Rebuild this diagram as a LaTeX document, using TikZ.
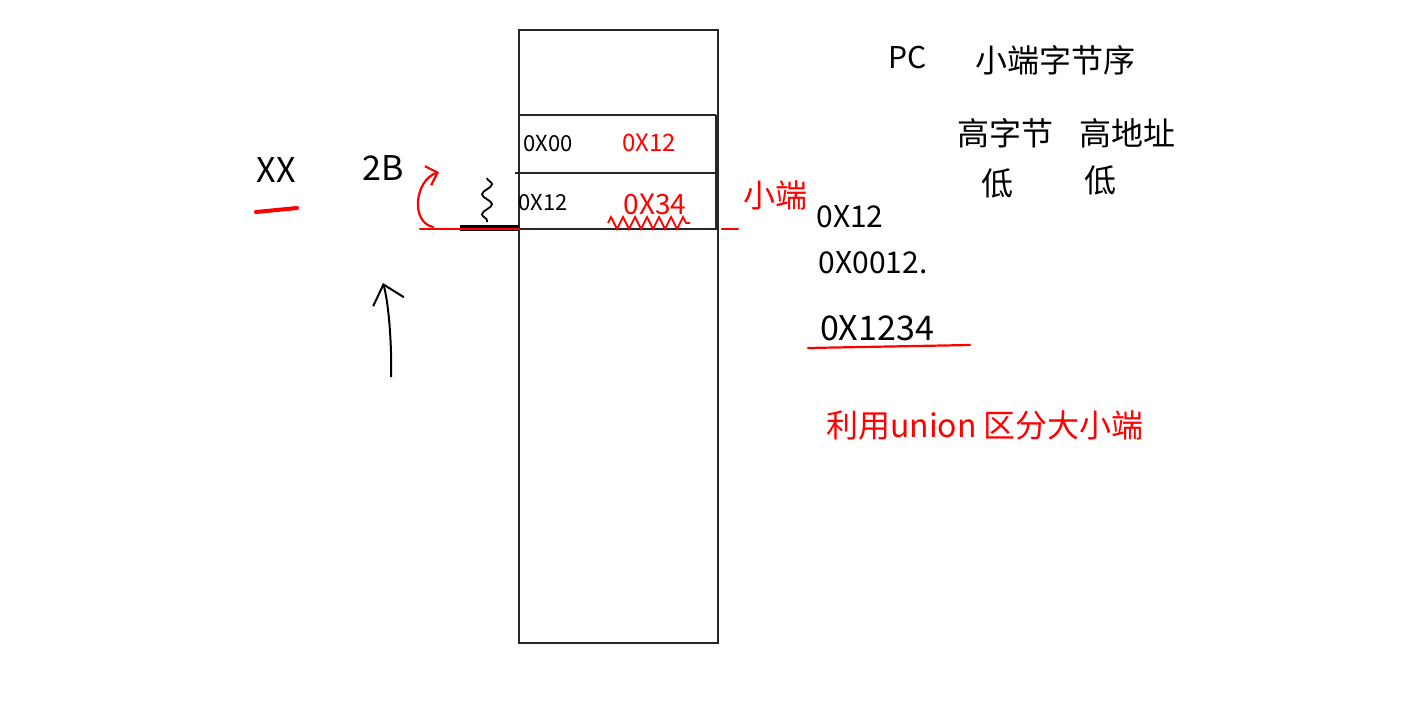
\documentclass[tikz,border=0pt]{standalone}
\usepackage{fontspec}
\setmainfont{Noto Sans CJK SC}
\usetikzlibrary{arrows.meta,decorations.pathmorphing}

\tikzset{
  memline/.style={black!85, line width=1.1pt},
  ink/.style={font=\fontsize{15}{17}\selectfont, anchor=center, inner sep=0pt},
  cellink/.style={font=\fontsize{11}{13}\selectfont, anchor=center, inner sep=0pt},
  redstroke/.style={red, line width=1.1pt, line cap=round},
}

\begin{document}
\begin{tikzpicture}[x=0.5pt,y=-0.5pt]
\useasboundingbox (0,0) rectangle (1424,702);

% memory column
\coordinate (stacktl) at (519,30);
\coordinate (stackbr) at (718,643);
\draw[memline] (stacktl) rectangle (stackbr);
\draw[memline] (519,115) -- (716,115);
\draw[memline] (515,173) -- (718,173);
\draw[memline] (519,229) -- (718,229);
\draw[memline] (716,115) -- (716,229);

% cells
\node[cellink] (cellhi) at (548,144) {0X00};
\node[cellink, red, font=\fontsize{12}{14}\selectfont] (cellhival) at (649,143) {0X12};
\node[cellink] (celllo) at (543,203) {0X12};
\node[cellink, red, font=\fontsize{14}{16}\selectfont] (cellloval) at (655,204) {0X34};
\draw[red, line width=0.9pt, decorate, decoration={zigzag, amplitude=3pt, segment length=6pt}] (608,223) -- (690,223);
\node[ink, red, font=\fontsize{16}{18}\selectfont] (littleend) at (775,195) {小端};
\draw[redstroke] (722,229) -- (738,229);

% left side
\node[ink, font=\fontsize{17}{19}\selectfont] (xxlabel) at (276,170) {XX};
\node[ink, font=\fontsize{17}{19}\selectfont] (twob) at (383,168) {2B};
\draw[redstroke, line width=2pt] (256,212) -- (297,208);
\draw[black, line width=2.8pt] (460,228) -- (519,228);
\draw[redstroke] (420,229) -- (519,229);
\coordinate (curvebot) at (433,227);
\coordinate (curvetop) at (439,172);
\draw[redstroke, -{Straight Barb[length=5pt]}] (curvebot) .. controls (410,222) and (415,180) .. (curvetop);
\draw[black, line width=0.9pt, decorate, decoration={snake, amplitude=2.5pt, segment length=10pt}] (487,178) -- (487,222);
\coordinate (arrowfoot) at (391,377);
\coordinate (arrowhead) at (383,283);
\draw[black, line width=1pt, -{Straight Barb[length=9pt, width=16pt]}] (arrowfoot) .. controls (392,340) and (388,300) .. (arrowhead);

% notes on the right
\node[ink] (pcnote) at (908,58) {PC};
\node[ink, font=\fontsize{16}{18}\selectfont] (endian) at (1055,60) {小端字节序};
\node[ink, font=\fontsize{16}{18}\selectfont] (hibyte) at (1005,133) {高字节};
\node[ink, font=\fontsize{16}{18}\selectfont] (hiaddr) at (1127,133) {高地址};
\node[ink, font=\fontsize{16}{18}\selectfont] (lobyte) at (997,183) {低};
\node[ink, font=\fontsize{16}{18}\selectfont] (loaddr) at (1100,180) {低};
\node[ink] (hexa) at (850,217) {0X12};
\node[ink] (hexb) at (873,263) {0X0012.};
\node[ink, font=\fontsize{17}{19}\selectfont] (hexc) at (877,328) {0X1234};
\draw[redstroke] (808,348) -- (970,345);
\node[ink, red, font=\fontsize{16}{18}\selectfont] (unionnote) at (985,425) {利用union 区分大小端};
\end{tikzpicture}
\end{document}
